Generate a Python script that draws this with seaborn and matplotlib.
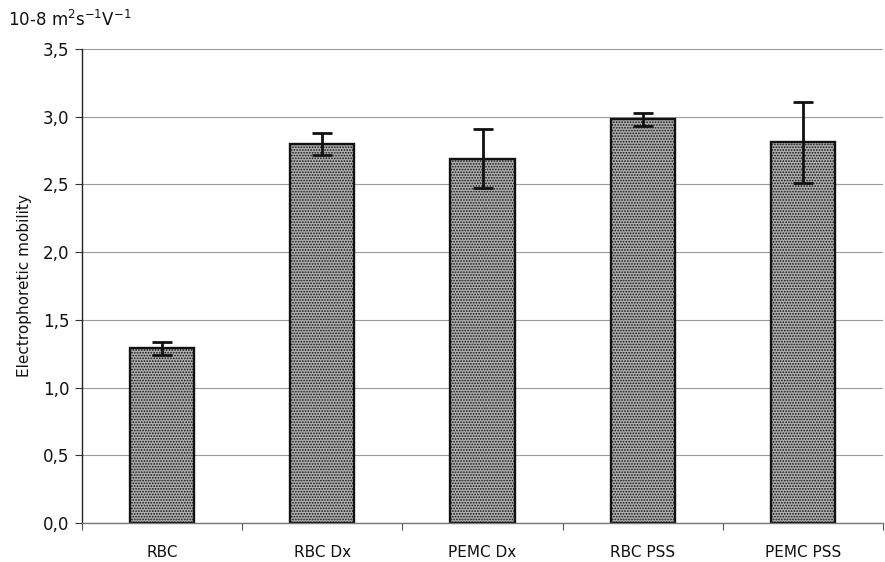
import numpy as np
import pandas as pd
import matplotlib
matplotlib.use("Agg")
import matplotlib.pyplot as plt
import seaborn as sns

# Data
categories = ["RBC", "RBC Dx", "PEMC Dx", "RBC PSS", "PEMC PSS"]
mobility = [1.29, 2.80, 2.69, 2.98, 2.81]
mobility_err = [0.05, 0.08, 0.22, 0.05, 0.30]
y_ticks = [0.0, 0.5, 1.0, 1.5, 2.0, 2.5, 3.0, 3.5]

df = pd.DataFrame({"cat": categories, "mob": mobility, "err": mobility_err})

sns.set_theme(style="white")
plt.rcParams["font.family"] = ["DejaVu Sans"]
plt.rcParams["hatch.color"] = "#555555"
plt.rcParams["hatch.linewidth"] = 0.8

fig = plt.figure(figsize=(8.85, 5.62), dpi=100)
ax = fig.add_axes([0.0927, 0.0694, 0.905, 0.8434])

sns.barplot(data=df, x="cat", y="mob", ax=ax, width=0.4, color="#adadad",
            edgecolor="#111111", linewidth=1.7, errorbar=None, saturation=1)
for p in ax.patches:
    p.set_hatch("......")

# error bars centred on the bars seaborn drew
centers = [p.get_x() + p.get_width() / 2 for p in ax.patches]
ax.errorbar(centers, df["mob"], yerr=df["err"], fmt="none", ecolor="#111111",
            elinewidth=2.0, capsize=7, capthick=2.0, zorder=5)

# axes styling
ax.set_ylim(0, 3.5)
ax.set_xlim(-0.5, len(categories) - 0.5)
ax.set_yticks(y_ticks)
ax.set_yticklabels([f"{v:.1f}".replace(".", ",") for v in y_ticks],
                   fontsize=12, color="#111111")
ax.yaxis.grid(True, color="#9a9a9a", linewidth=0.8)
ax.set_axisbelow(True)
ax.tick_params(axis="y", which="major", length=5, width=0.8, color="#333333",
               direction="out", left=True, pad=4)

ax.set_xticks(range(len(categories)))
ax.set_xticklabels(categories, fontsize=11, color="#111111")
ax.tick_params(axis="x", which="major", length=0, pad=16)
ax.set_xticks(np.arange(-0.5, len(categories), 1.0), minor=True)
ax.tick_params(axis="x", which="minor", length=5, width=0.8, color="#555555",
               direction="out", bottom=True)

for side in ["top", "right"]:
    ax.spines[side].set_visible(False)
ax.spines["left"].set_color("#222222")
ax.spines["left"].set_linewidth(1.0)
ax.spines["bottom"].set_color("#777777")
ax.spines["bottom"].set_linewidth(1.0)

ax.set_xlabel("")
ax.set_ylabel("Electrophoretic mobility", fontsize=11, labelpad=8, color="#111111")

fig.text(0.009, 0.965, r"10-8 m$^{2}$s$^{-1}$V$^{-1}$", fontsize=12,
         ha="left", va="center", color="#111111")

plt.savefig("out.png", dpi=100)
plt.close()
